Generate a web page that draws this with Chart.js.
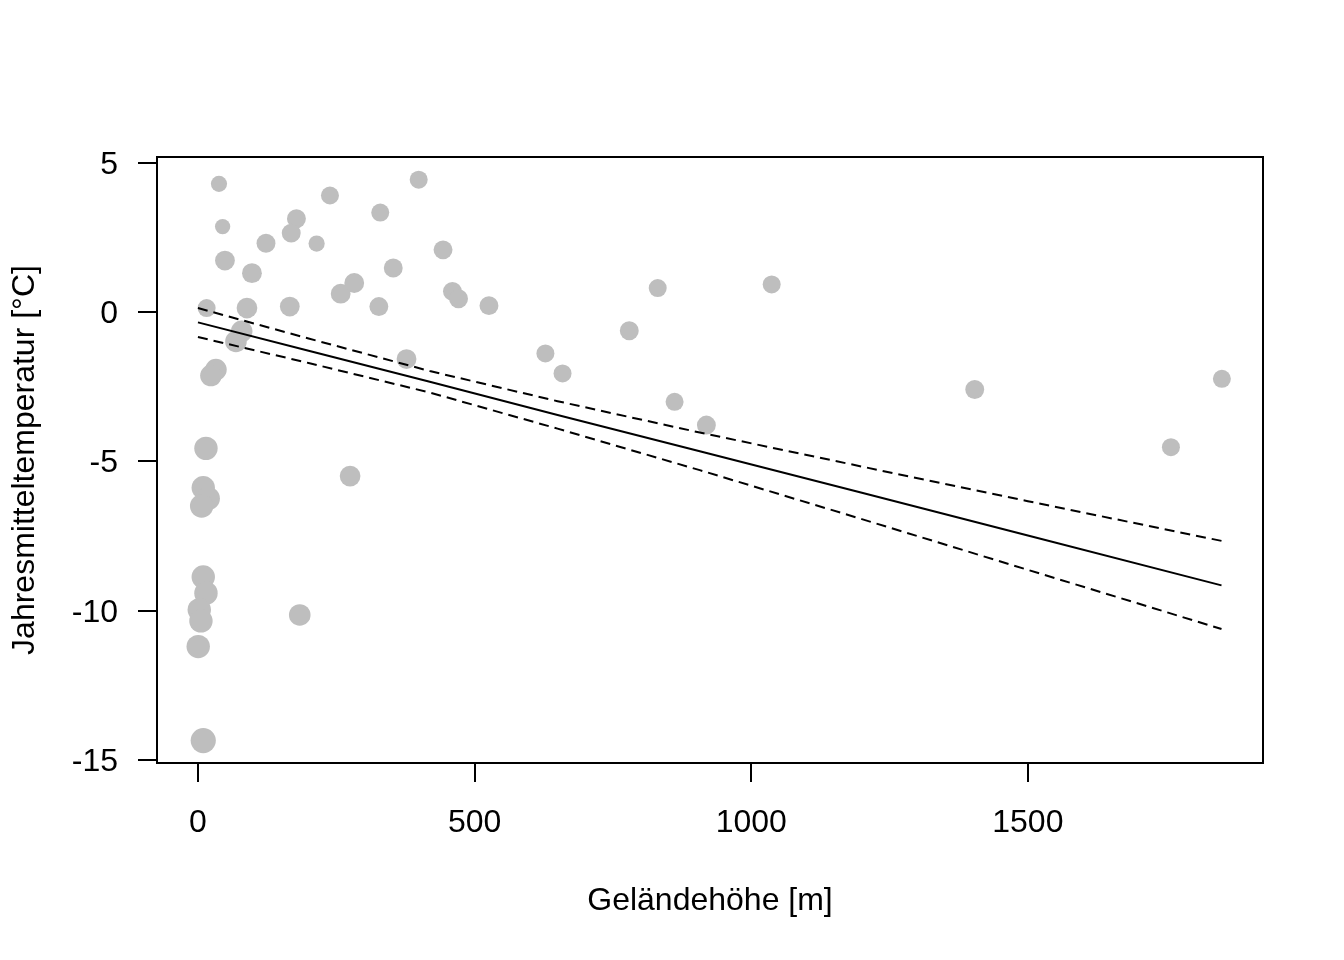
<!DOCTYPE html>
<html>
<head>
<meta charset="utf-8">
<script src="https://cdn.jsdelivr.net/npm/chart.js@4.4.1/dist/chart.umd.min.js"></script>
<style>
  html, body { margin: 0; padding: 0; background: #fff; }
  #wrap { width: 1344px; height: 960px; }
</style>
</head>
<body>
<div id="wrap"><canvas id="chart" width="1344" height="960"></canvas></div>
<script>
// station elevation [m] and annual mean temperature [°C]
const elevation = [
  38, 44.6, 48.8, 97.6, 123, 178, 168.6, 214.5, 238.6, 329.5,
  399, 15.7, 88.6, 166, 258, 282.5, 353, 327, 443, 79,
  68.7, 377, 32.5, 23.5, 14.5, 9.6, 18.6, 6.7, 9.6, 14.5,
  2.4, 5.4, 0.5, 9.6, 184, 275, 460, 471, 526, 628,
  831, 1037, 779.6, 659, 861.5, 919, 1404, 1758.6, 1850.7
];
const temperature = [
  4.30, 2.87, 1.73, 1.31, 2.31, 3.13, 2.65, 2.30, 3.91, 3.34,
  4.44, 0.14, 0.14, 0.19, 0.62, 0.98, 1.48, 0.19, 2.09, -0.64,
  -0.98, -1.57, -1.92, -2.12, -4.56, -5.88, -6.24, -6.49, -8.87, -9.41,
  -9.97, -10.34, -11.2, -14.35, -10.14, -5.49, 0.70, 0.45, 0.22, -1.38,
  0.81, 0.93, -0.62, -2.05, -3.00, -3.78, -2.59, -4.52, -2.23
];
// relative symbol size (cex) per station
const symbolCex = [
  0.9, 0.85, 1.1, 1.1, 1.05, 1.05, 1.05, 0.9, 1.0, 1.0,
  1.0, 1.0, 1.15, 1.1, 1.1, 1.1, 1.05, 1.05, 1.05, 1.2,
  1.2, 1.1, 1.2, 1.2, 1.3, 1.3, 1.3, 1.3, 1.3, 1.3,
  1.3, 1.3, 1.3, 1.4, 1.2, 1.15, 1.05, 1.05, 1.05, 1.0,
  1.0, 1.0, 1.05, 1.0, 1.0, 1.05, 1.05, 1.0, 1.0
];

// regression line and confidence band
const fitX = [0, 200, 419, 650, 907, 1200, 1500, 1850];
const fitY = [-0.34, -1.29, -2.33, -3.44, -4.66, -6.05, -7.48, -9.15];
const upperY = [0.14, -0.88, -1.97, -2.98, -4.03, -5.17, -6.33, -7.66];
const lowerY = [-0.83, -1.70, -2.69, -3.90, -5.29, -6.93, -8.63, -10.61];

const xTicks = [0, 500, 1000, 1500];
const yTicks = [-15, -10, -5, 0, 5];

const FONT = "'Liberation Sans', Arial, Helvetica, sans-serif";
const GREY = "#bebebe";

const toXY = (xs, ys) => xs.map((x, i) => ({ x: x, y: ys[i] }));

const boxPlugin = {
  id: "box",
  afterDraw(chart) {
    const { ctx, chartArea: a } = chart;
    ctx.save();
    ctx.strokeStyle = "#000";
    ctx.lineWidth = 2;
    ctx.strokeRect(a.left, a.top, a.right - a.left, a.bottom - a.top);
    ctx.restore();
  },
};

const lineSet = (ys, dash) => ({
  type: "line",
  data: toXY(fitX, ys),
  borderColor: "#000",
  borderWidth: 2,
  borderDash: dash,
  pointRadius: 0,
  fill: false,
  tension: 0,
  order: 0,
});

new Chart(document.getElementById("chart"), {
  type: "scatter",
  data: {
    datasets: [
      {
        data: toXY(elevation, temperature),
        backgroundColor: GREY,
        borderWidth: 0,
        pointRadius: symbolCex.map((c) => c * 9),
        pointHoverRadius: symbolCex.map((c) => c * 9),
        order: 1,
      },
      lineSet(fitY, []),
      lineSet(upperY, [10, 6]),
      lineSet(lowerY, [10, 6]),
    ],
  },
  options: {
    responsive: false,
    animation: false,
    events: [],
    layout: { padding: { left: 0, top: 157, right: 81, bottom: 0 } },
    plugins: { legend: { display: false }, tooltip: { enabled: false } },
    scales: {
      x: {
        type: "linear",
        min: -74,
        max: 1925,
        afterFit: (s) => { s.height = 197; },
        afterBuildTicks: (s) => { s.ticks = xTicks.map((v) => ({ value: v })); },
        border: { display: false },
        grid: { drawOnChartArea: false, drawTicks: true, tickLength: 19, color: "#000", lineWidth: 2 },
        ticks: {
          color: "#000",
          padding: 22,
          maxRotation: 0,
          font: { family: FONT, size: 32 },
          callback: (v) => String(v),
        },
        title: {
          display: true,
          text: "Geländehöhe [m]",
          color: "#000",
          font: { family: FONT, size: 32 },
          padding: { top: 0, bottom: 40 },
        },
      },
      y: {
        type: "linear",
        min: -15.1,
        max: 5.2,
        afterFit: (s) => { s.width = 157; },
        afterBuildTicks: (s) => { s.ticks = yTicks.map((v) => ({ value: v })); },
        border: { display: false },
        grid: { drawOnChartArea: false, drawTicks: true, tickLength: 19, color: "#000", lineWidth: 2 },
        ticks: {
          color: "#000",
          padding: 20,
          labelOffset: 2,
          font: { family: FONT, size: 32 },
          callback: (v) => String(v),
        },
        title: {
          display: true,
          text: "Jahresmitteltemperatur [°C]",
          color: "#000",
          font: { family: FONT, size: 32 },
          padding: { top: 6, bottom: 0 },
        },
      },
    },
  },
  plugins: [boxPlugin],
});
</script>
</body>
</html>
